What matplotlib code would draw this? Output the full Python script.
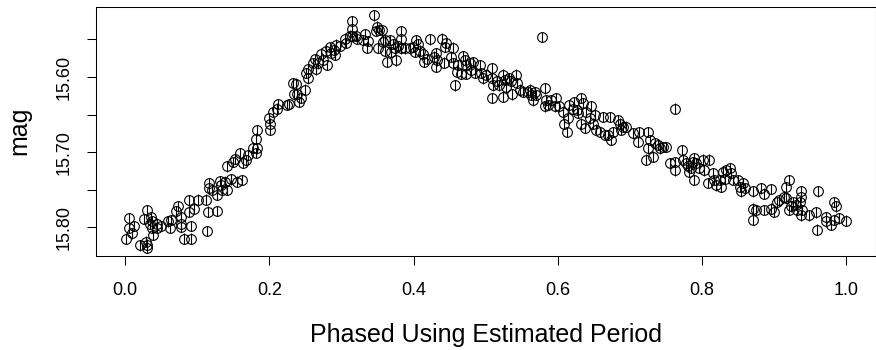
import matplotlib
matplotlib.use("Agg")
import matplotlib.pyplot as plt

plt.rcParams['font.family'] = ['Liberation Sans', 'DejaVu Sans']

phase = [
    0.002, 0.006, 0.006, 0.012, 0.010, 0.021, 0.030, 0.027, 0.029, 0.031,
    0.030, 0.036, 0.038, 0.034, 0.037, 0.039, 0.045, 0.045, 0.050, 0.059,
    0.062, 0.064, 0.071, 0.074, 0.078, 0.078, 0.078, 0.082, 0.089, 0.091,
    0.091, 0.089, 0.096, 0.101, 0.112, 0.115, 0.113, 0.116, 0.117, 0.121,
    0.127, 0.128, 0.132, 0.133, 0.138, 0.135, 0.141, 0.142, 0.147, 0.150,
    0.155, 0.162,
    0.152, 0.159, 0.163, 0.168, 0.171, 0.178, 0.183, 0.182, 0.183, 0.181,
    0.201, 0.201, 0.200, 0.205, 0.210, 0.212, 0.224, 0.227, 0.233, 0.237,
    0.234, 0.239, 0.241, 0.244, 0.249, 0.253, 0.253, 0.251, 0.260, 0.265,
    0.263, 0.268, 0.272, 0.275, 0.280, 0.279, 0.284, 0.286, 0.289, 0.291,
    0.293, 0.298, 0.305, 0.306,
    0.315, 0.315, 0.315, 0.312, 0.320, 0.322, 0.332, 0.330, 0.337, 0.336,
    0.345, 0.349, 0.352, 0.348, 0.356, 0.351, 0.357, 0.360, 0.363, 0.361,
    0.367, 0.369, 0.372, 0.376, 0.374, 0.379, 0.383, 0.383, 0.382, 0.388,
    0.395, 0.399, 0.404, 0.406, 0.409, 0.402, 0.415, 0.418, 0.413, 0.423,
    0.428, 0.431, 0.433, 0.431, 0.439, 0.443, 0.445, 0.442, 0.452, 0.455,
    0.454, 0.458, 0.460, 0.462, 0.466, 0.469, 0.471, 0.473, 0.472,
    0.478, 0.480, 0.482, 0.485, 0.492, 0.494, 0.496, 0.501, 0.508, 0.508,
    0.508, 0.510, 0.515, 0.519, 0.524, 0.524, 0.526, 0.528, 0.532, 0.535,
    0.537, 0.542, 0.543, 0.547, 0.552, 0.559, 0.561, 0.563, 0.565, 0.568,
    0.570, 0.578, 0.582, 0.584, 0.582, 0.586, 0.591, 0.598, 0.596, 0.602,
    0.607, 0.609, 0.612, 0.614, 0.616, 0.621, 0.623, 0.626, 0.628, 0.632,
    0.635, 0.632, 0.637, 0.639, 0.644, 0.646, 0.649, 0.651, 0.653,
    0.658, 0.663, 0.665, 0.669, 0.672, 0.673, 0.676, 0.683, 0.686, 0.688,
    0.690, 0.695, 0.704, 0.711, 0.713, 0.725, 0.727, 0.725, 0.722, 0.732,
    0.734, 0.739, 0.741, 0.746, 0.750, 0.762, 0.755, 0.762, 0.762, 0.772,
    0.773, 0.778, 0.780, 0.782, 0.785, 0.787, 0.789, 0.792, 0.789, 0.796,
    0.801, 0.803, 0.810, 0.808, 0.815, 0.817, 0.819, 0.824, 0.826, 0.829,
    0.831, 0.833,
    0.838, 0.840, 0.842, 0.849, 0.852, 0.854, 0.856, 0.859, 0.870, 0.870,
    0.870, 0.875, 0.882, 0.885, 0.886, 0.896, 0.896, 0.900, 0.903, 0.907,
    0.914, 0.916, 0.916, 0.921, 0.921, 0.923, 0.926, 0.930, 0.932, 0.935,
    0.937, 0.937, 0.937, 0.939, 0.948, 0.958, 0.960, 0.959, 0.971, 0.972,
    0.979, 0.983, 0.985, 0.983, 0.990, 1.000,
]

mag = [
    15.815, 15.788, 15.801, 15.798, 15.808, 15.824, 15.777, 15.789, 15.819, 15.823,
    15.827, 15.786, 15.792, 15.795, 15.801, 15.810, 15.795, 15.801, 15.798, 15.792,
    15.801, 15.790, 15.778, 15.772, 15.795, 15.786, 15.799, 15.815, 15.764, 15.798,
    15.815, 15.779, 15.775, 15.763, 15.763, 15.779, 15.805, 15.741, 15.748, 15.750,
    15.778, 15.757, 15.738, 15.744, 15.739, 15.750, 15.750, 15.719, 15.736, 15.713,
    15.739, 15.737,
    15.709, 15.701, 15.714, 15.711, 15.704, 15.694, 15.695, 15.682, 15.671, 15.701,
    15.670, 15.662, 15.655, 15.646, 15.642, 15.636, 15.637, 15.636, 15.608, 15.609,
    15.622, 15.623, 15.633, 15.628, 15.617, 15.602, 15.590, 15.595, 15.582, 15.590,
    15.576, 15.582, 15.569, 15.577, 15.584, 15.565, 15.560, 15.568, 15.564, 15.571,
    15.557, 15.559, 15.549, 15.555,
    15.526, 15.536, 15.546, 15.545, 15.545, 15.549, 15.543, 15.551, 15.552, 15.561,
    15.518, 15.533, 15.537, 15.539, 15.538, 15.561, 15.553, 15.565, 15.580, 15.551,
    15.551, 15.567, 15.556, 15.578, 15.562, 15.559, 15.539, 15.549, 15.562, 15.562,
    15.562, 15.560, 15.551, 15.556, 15.565, 15.567, 15.580, 15.576, 15.569, 15.550,
    15.573, 15.568, 15.578, 15.587, 15.549, 15.560, 15.555, 15.581, 15.573, 15.561,
    15.582, 15.611, 15.593, 15.584, 15.596, 15.572, 15.578, 15.596, 15.584,
    15.582, 15.591, 15.580, 15.595, 15.584, 15.595, 15.602, 15.597, 15.588, 15.602,
    15.628, 15.611, 15.606, 15.611, 15.597, 15.626, 15.604, 15.613, 15.602, 15.606,
    15.623, 15.597, 15.608, 15.617, 15.620, 15.620, 15.617, 15.624, 15.631, 15.620,
    15.624, 15.547, 15.615, 15.631, 15.639, 15.637, 15.631, 15.628, 15.639, 15.639,
    15.646, 15.662, 15.673, 15.655, 15.637, 15.642, 15.633, 15.644, 15.648, 15.628,
    15.635, 15.662, 15.668, 15.646, 15.655, 15.639, 15.662, 15.651, 15.670,
    15.673, 15.653, 15.677, 15.677, 15.653, 15.684, 15.673, 15.657, 15.662, 15.670,
    15.666, 15.666, 15.675, 15.686, 15.673, 15.673, 15.684, 15.695, 15.710, 15.706,
    15.688, 15.690, 15.695, 15.693, 15.693, 15.642, 15.715, 15.713, 15.724, 15.697,
    15.710, 15.715, 15.719, 15.726, 15.721, 15.713, 15.708, 15.715, 15.737, 15.721,
    15.710, 15.724, 15.710, 15.741, 15.728, 15.737, 15.744, 15.737, 15.746, 15.726,
    15.735, 15.724,
    15.721, 15.728, 15.737, 15.737, 15.746, 15.752, 15.741, 15.748, 15.752, 15.775,
    15.790, 15.777, 15.748, 15.777, 15.755, 15.749, 15.775, 15.779, 15.766, 15.764,
    15.759, 15.761, 15.746, 15.737, 15.777, 15.772, 15.766, 15.770, 15.777, 15.766,
    15.752, 15.759, 15.784, 15.777, 15.784, 15.780, 15.752, 15.803, 15.786, 15.792,
    15.797, 15.766, 15.772, 15.790, 15.788, 15.791,
]

mag_err = 0.007

ytick_values = [15.55, 15.60, 15.65, 15.70, 15.75, 15.80]
ytick_labels = ["", "15.60", "", "15.70", "", "15.80"]
xtick_values = [0.0, 0.2, 0.4, 0.6, 0.8, 1.0]
xtick_labels = ["0.0", "0.2", "0.4", "0.6", "0.8", "1.0"]

W, H = 876, 350
fig = plt.figure(figsize=(W / 100, H / 100), dpi=100)
ax = fig.add_axes([96 / W, 1 - 256 / H, (875.5 - 96) / W, (256 - 7) / H])

ax.errorbar(phase, mag, yerr=mag_err, fmt='o', mfc='none', mec='black',
            ecolor='black', ms=7, mew=0.8, elinewidth=0.8, capsize=0)

ax.set_xlim(-0.0402, 1.0402)
ax.set_ylim(15.838, 15.507)

ax.set_xticks(xtick_values)
ax.set_xticklabels(xtick_labels)
ax.set_yticks(ytick_values)
ax.set_yticklabels(ytick_labels, rotation=90, va='center')

ax.tick_params(axis='both', direction='out', length=6.5, width=0.75,
               labelsize=13, colors='black')
ax.tick_params(axis='x', pad=12)
ax.tick_params(axis='y', pad=10)
for s in ax.spines.values():
    s.set_linewidth(0.75)
    s.set_color('black')

fig.text(486 / W, 1 - 335 / H, "Phased Using Estimated Period",
         ha='center', va='center', fontsize=18)
fig.text(19 / W, 1 - 131 / H, "mag", ha='center', va='center',
         rotation=90, fontsize=18)

fig.savefig("out.png", dpi=100)
